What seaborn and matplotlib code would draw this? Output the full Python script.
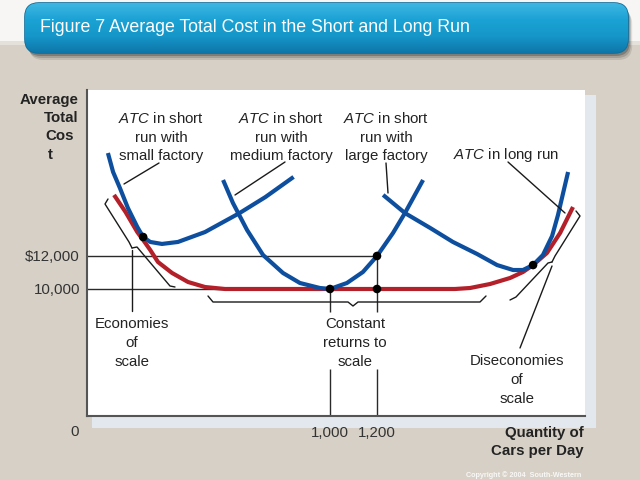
import matplotlib
matplotlib.use("Agg")
import numpy as np
import pandas as pd
import matplotlib.pyplot as plt
import seaborn as sns
from matplotlib.patches import FancyBboxPatch, Rectangle
from matplotlib.colors import LinearSegmentedColormap

# ---------------- data (quantity of cars per day, average total cost $) ----------------
small_q = [55, 77, 106, 140, 180, 205, 235, 285, 353, 468, 615, 725, 845]
small_c = [18240, 17090, 16120, 14910, 13760, 13150, 12850, 12730, 12850, 13450, 14600, 15570, 16790]

medium_q = [545, 587, 647, 715, 800, 872, 957, 1000, 1072, 1140, 1200, 1268, 1319, 1396]
medium_c = [16605, 15211, 13575, 12060, 10969, 10363, 10060, 10000, 10363, 11029, 12000, 13393, 14605, 16605]

large_q = [1226, 1319, 1426, 1523, 1626, 1711, 1779, 1821, 1864, 1906, 1945, 1970, 1991, 2013]
large_c = [15700, 14600, 13700, 12850, 12120, 11450, 11150, 11150, 11450, 12060, 13210, 14480, 15760, 17090]

long_q = [81, 130, 180, 205, 235, 268, 328, 396, 468, 553, 1000, 1532, 1596, 1681, 1766, 1821, 1864, 1923, 1979, 2034]
long_c = [15700, 14665, 13450, 12970, 12363, 11635, 10970, 10423, 10120, 10000, 10000, 10000, 10060, 10302, 10666, 11029, 11450, 12181, 13393, 14968]

dots_q = [205, 1000, 1200, 1200, 1864]
dots_c = [13150, 10000, 12000, 10000, 11450]

xtick_vals = [1000, 1200]
xtick_labels = ["1,000", "1,200"]
ytick_vals = [10000, 12000]
ytick_labels = ["10,000", "$12,000"]

title = "Figure 7 Average Total Cost in the Short and Long Run"

# ---------------- style ----------------
sns.set_style("white")
plt.rcParams["font.family"] = ["Liberation Sans", "DejaVu Sans"]
plt.rcParams["mathtext.fontset"] = "custom"
plt.rcParams["mathtext.rm"] = "Liberation Sans"
plt.rcParams["mathtext.it"] = "Liberation Sans:italic"
plt.rcParams["lines.solid_joinstyle"] = "round"
plt.rcParams["lines.solid_capstyle"] = "butt"

BLUE = "#0d4f9e"
RED = "#b3202a"
BEIGE = "#d6d0c6"
TXT = "#232323"
FS = 10.8

fig = plt.figure(figsize=(6.4, 4.8), dpi=100)
fig.patch.set_facecolor(BEIGE)

# background layer in pixel coordinates
bg = fig.add_axes([0, 0, 1, 1], zorder=-5)
bg.set_xlim(0, 640); bg.set_ylim(480, 0); bg.axis("off")
bg.add_patch(Rectangle((0, 0), 640, 41, color="#f7f6f4", lw=0))
bg.add_patch(Rectangle((0, 41), 640, 4, color="#e4e0da", lw=0))
bg.add_patch(Rectangle((92, 95), 504, 333, color="#e3e8ef", lw=0))
# title bar shadow
for off, a in [(7, 0.10), (5, 0.15), (3, 0.22)]:
    bg.add_patch(FancyBboxPatch((25 + off * 0.6, 3 + off), 603, 50,
                                boxstyle="round,pad=0,rounding_size=14",
                                fc="black", ec="none", alpha=a))
bar = FancyBboxPatch((25, 3), 603, 50, boxstyle="round,pad=0,rounding_size=14",
                     fc="#1a9fd1", ec="#0e6e9a", lw=1.2)
bg.add_patch(bar)
grad = LinearSegmentedColormap.from_list("g", ["#3fb6e2", "#1ba2d4", "#1696c9", "#0e76a8"])
im = bg.imshow(np.linspace(0, 1, 100).reshape(-1, 1), cmap=grad, aspect="auto",
               extent=[25, 628, 53, 3], zorder=2)
im.set_clip_path(bar)
bg.set_xlim(0, 640); bg.set_ylim(480, 0)

# main chart axes
ax = fig.add_axes([87 / 640, (480 - 416) / 480, (585 - 87) / 640, (416 - 90) / 480], zorder=1)
ax.set_facecolor("white")
ax.set_xlim(-34, 2085)
ax.set_ylim(2303, 22059)

# reference lines
ref_kw = dict(color="#2a2a2a", lw=1.0, zorder=1)
ax.plot([-34, 1200], [12000, 12000], **ref_kw)
ax.plot([-34, 1200], [10000, 10000], **ref_kw)
for q, top in [(1000, 10000), (1200, 12000)]:
    ax.plot([q, q], [top, 8605], **ref_kw)
    ax.plot([q, q], [5151, 2303], **ref_kw)

df_long = pd.DataFrame({"q": long_q, "c": long_c})
sns.lineplot(data=df_long, x="q", y="c", color=RED, lw=3.0, ax=ax, zorder=3, sort=False)
for qs, cs in [(small_q, small_c), (medium_q, medium_c), (large_q, large_c)]:
    d = pd.DataFrame({"q": qs, "c": cs})
    sns.lineplot(data=d, x="q", y="c", color=BLUE, lw=3.0, ax=ax, zorder=4, sort=False)
sns.scatterplot(x=dots_q, y=dots_c, color="black", s=38, edgecolor="none", ax=ax, zorder=5)

ax.set_xticks(xtick_vals, xtick_labels)
ax.set_yticks(ytick_vals, ytick_labels)
ax.tick_params(axis="both", length=0, labelsize=FS, labelcolor="#333333")
ax.tick_params(axis="x", pad=7)
ax.tick_params(axis="y", pad=5)
ax.set_xlabel(""); ax.set_ylabel("")
for s in ["top", "right"]:
    ax.spines[s].set_visible(False)
for s in ["left", "bottom"]:
    ax.spines[s].set_color("#555555")
    ax.spines[s].set_linewidth(1.5)

# foreground annotation layer in pixel coordinates
fg = fig.add_axes([0, 0, 1, 1], zorder=6)
fg.set_xlim(0, 640); fg.set_ylim(480, 0); fg.axis("off")
fg.patch.set_alpha(0)

def pl(pts, lw=1.0, c="#1a1a1a"):
    xs, ys = zip(*pts)
    fg.plot(xs, ys, color=c, lw=lw, solid_capstyle="round", solid_joinstyle="round")

# pointers
pl([(124, 184), (159, 163)])
pl([(235, 195), (285, 162)])
pl([(388, 193), (386, 163)])
pl([(508, 162), (565, 213)])
# braces
pl([(108, 199), (105, 204), (129, 242), (132, 248)])
pl([(132, 248), (137, 247), (170, 286), (175, 287)])
pl([(132, 250), (132, 311)])
pl([(208, 296), (213, 302), (348, 302), (353, 306), (358, 302), (480, 302), (486, 296)])
pl([(576, 211), (580, 216), (555, 256), (552, 262)])
pl([(552, 262), (548, 263), (516, 297), (510, 300)])
pl([(552, 266), (520, 348)])

def lines(cx, baselines, texts, ha="center", **kw):
    for y, t in zip(baselines, texts):
        fg.text(cx, y, t, ha=ha, va="baseline", fontsize=FS, color=TXT, **kw)

b3 = [123, 141.5, 160]
lines(161, b3, [r"$\mathit{ATC}$ in short", "run with", "small factory"])
lines(281, b3, [r"$\mathit{ATC}$ in short", "run with", "medium factory"])
lines(386, b3, [r"$\mathit{ATC}$ in short", "run with", "large factory"])
lines(506, [159], [r"$\mathit{ATC}$ in long run"])
lines(132, [328, 347, 366], ["Economies", "of", "scale"])
lines(355, [328, 347, 366], ["Constant", "returns to", "scale"])
lines(517, [365, 384, 403], ["Diseconomies", "of", "scale"])

# axis titles
fg.text(79, 104, "Average", ha="right", va="baseline", fontsize=FS, fontweight="bold", color=TXT)
fg.text(78, 122, "Total", ha="right", va="baseline", fontsize=FS, fontweight="bold", color=TXT)
fg.text(74, 140, "Cos", ha="right", va="baseline", fontsize=FS, fontweight="bold", color=TXT)
fg.text(48, 159, "t", ha="left", va="baseline", fontsize=FS, fontweight="bold", color=TXT)
fg.text(584, 437, "Quantity of", ha="right", va="baseline", fontsize=FS, fontweight="bold", color=TXT)
fg.text(584, 455, "Cars per Day", ha="right", va="baseline", fontsize=FS, fontweight="bold", color=TXT)
fg.text(75, 436, "0", ha="center", va="baseline", fontsize=FS, color="#333333")

# title and copyright
fg.text(40, 32, title, ha="left", va="baseline", fontsize=12.8, color="white")
fg.text(466, 477, "Copyright \u00a9 2004  South-Western", ha="left", va="baseline",
        fontsize=5.2, color="white", fontweight="bold", alpha=0.85)

fig.savefig("out.png", dpi=100, facecolor=fig.get_facecolor())
